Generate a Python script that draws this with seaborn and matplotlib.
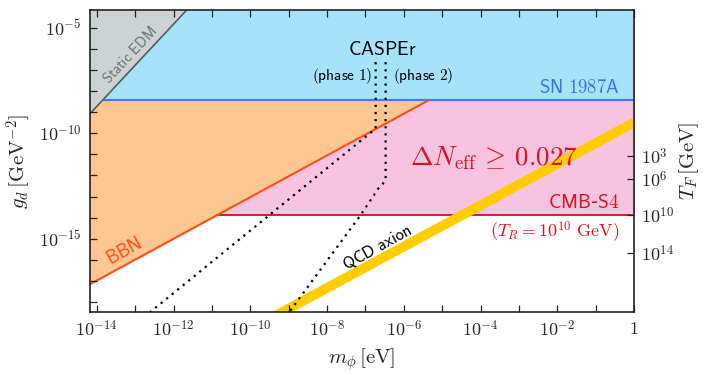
import numpy as np
import matplotlib
matplotlib.use("Agg")
import matplotlib.pyplot as plt
import seaborn as sns

# ---------------- data ----------------
x_major = [1e-14, 1e-12, 1e-10, 1e-8, 1e-6, 1e-4, 1e-2, 1.0]
x_major_labels = [r"$10^{-14}$", r"$10^{-12}$", r"$10^{-10}$", r"$10^{-8}$",
                  r"$10^{-6}$", r"$10^{-4}$", r"$10^{-2}$", r"$1$"]
x_minor = [1e-13, 1e-11, 1e-9, 1e-7, 1e-5, 1e-3, 1e-1]
y_major = [1e-15, 1e-10, 1e-5]
y_major_labels = [r"$10^{-15}$", r"$10^{-10}$", r"$10^{-5}$"]
y_minor = [1e-18, 1e-17, 1e-16, 1e-14, 1e-13, 1e-12, 1e-11, 1e-9, 1e-8, 1e-7, 1e-6]

# right axis: freeze-out temperature T_F
tf_g = [10**-11.07, 10**-12.18, 10**-13.88, 10**-15.69]
tf_labels = [r"$10^{3}$", r"$10^{6}$", r"$10^{10}$", r"$10^{14}$"]

# constraints
g_sn = 10**-8.43          # SN 1987A
g_cmb = 10**-13.88        # CMB-S4 (Delta N_eff >= 0.027)

edm_m = [10**-14.4, 10**-11.5]
edm_g = [10**-9.5, 10**-3.85]

bbn_m = [10**-14.4, 10**-5.345]
bbn_g = [10**-17.37, 10**-8.43]

qcd_m = [10**-10.0, 1.0]
qcd_g = [10**-19.29, 10**-9.49]

casper1_m = [10**-6.735, 10**-6.735, 10**-12.9]
casper1_g = [10**-6.63, 10**-9.78, 10**-18.9]

casper2_m = [10**-6.475, 10**-6.475, 10**-6.55, 10**-6.65, 10**-7.13, 10**-9.2]
casper2_g = [10**-6.63, 10**-12.2, 10**-12.4, 10**-12.58, 10**-13.89, 10**-19.0]

xlim = (10**-14.18, 1.0)
ylim = (10**-18.47, 10**-4.16)

# ---------------- style ----------------
sns.set_style("ticks")
plt.rcParams["mathtext.fontset"] = "cm"
plt.rcParams["font.family"] = ["DejaVu Sans"]
plt.rcParams["axes.axisbelow"] = False

fig = plt.figure(figsize=(7.04, 3.75), dpi=100)
ax = fig.add_axes([90/704, 1-312/375, 544/704, 302/375])
ax.set_axisbelow(False)
ax.set_xscale("log")
ax.set_yscale("log")
ax.set_xlim(*xlim)
ax.set_ylim(*ylim)

c_sn_fill, c_sn_line = "#a6e3fb", "#3f7bff"
c_bbn_fill, c_bbn_line = "#fec691", "#ff4d17"
c_cmb_fill, c_cmb_line = "#f8c3e0", "#dc1d2c"
c_edm_fill, c_edm_line = "#cdd3d3", "#555b5b"
c_qcd = "#ffcc00"

# SN 1987A region
ax.fill_between([xlim[0] / 10, xlim[1] * 10], g_sn, 1e-2, color=c_sn_fill, lw=0, zorder=1)

# BBN region: between BBN line and SN line
lbm, lbg = np.log10(bbn_m), np.log10(bbn_g)
ax.fill_between(bbn_m, bbn_g, g_sn, color=c_bbn_fill, lw=0, zorder=1)

# CMB-S4 region: right of BBN, between CMB and SN lines
m_cross = 10**np.interp(np.log10(g_cmb), lbg, lbm)
pink_m = [m_cross, bbn_m[-1], xlim[1] * 10]
pink_top = [g_cmb, g_sn, g_sn]
ax.fill_between(pink_m, g_cmb, pink_top, color=c_cmb_fill, lw=0, zorder=1)

# lines
sns.lineplot(x=[m_cross, xlim[1] * 10], y=[g_cmb, g_cmb], ax=ax, color=c_cmb_line,
             lw=1.4, zorder=3, estimator=None, sort=False)
sns.lineplot(x=[xlim[0] / 10, xlim[1] * 10], y=[g_sn, g_sn], ax=ax, color=c_sn_line,
             lw=1.6, zorder=3, estimator=None, sort=False)
sns.lineplot(x=bbn_m, y=bbn_g, ax=ax, color=c_bbn_line, lw=1.5, zorder=3,
             estimator=None, sort=False)

# Static EDM
ax.fill_between(edm_m, edm_g, 1e-2, color=c_edm_fill, lw=0, zorder=4)
sns.lineplot(x=edm_m, y=edm_g, ax=ax, color=c_edm_line, lw=1.2, zorder=5,
             estimator=None, sort=False)

# QCD axion band
sns.lineplot(x=qcd_m, y=qcd_g, ax=ax, color=c_qcd, lw=7.0, zorder=5,
             estimator=None, sort=False, solid_capstyle="butt")

# CASPEr
for cm_, cg_ in [(casper1_m, casper1_g), (casper2_m, casper2_g)]:
    sns.lineplot(x=cm_, y=cg_, ax=ax, color="black", lw=1.6, ls=(0, (1, 2.2)),
                 zorder=6, estimator=None, sort=False)

if ax.get_legend() is not None:
    ax.get_legend().remove()

ax.set_xlabel(r"$m_\phi\,[\mathrm{eV}]$", fontsize=15, labelpad=4)
ax.set_ylabel(r"$g_d\,[\mathrm{GeV}^{-2}]$", fontsize=15, labelpad=4)

# twin axis for T_F
ax2 = ax.twinx()
ax2.set_yscale("log")
ax2.set_ylim(*ylim)
ax2.set_yticks(tf_g)
ax2.set_yticklabels(tf_labels)
ax2.yaxis.set_minor_locator(matplotlib.ticker.NullLocator())
ax2.tick_params(axis="y", direction="in", length=5, width=0.9, color="#222222",
                labelsize=13, pad=5)
ax2.set_ylabel(r"$T_F\,[\mathrm{GeV}]$", fontsize=15, labelpad=2)
for s in ax2.spines.values():
    s.set_visible(False)

# ticks of main axes (after twinx)
ax.set_xlim(*xlim)
ax.set_ylim(*ylim)
ax.xaxis.set_major_locator(matplotlib.ticker.FixedLocator(x_major))
ax.xaxis.set_major_formatter(matplotlib.ticker.FixedFormatter(x_major_labels))
ax.xaxis.set_minor_locator(matplotlib.ticker.FixedLocator(x_minor))
ax.xaxis.set_minor_formatter(matplotlib.ticker.NullFormatter())
ax.yaxis.set_major_locator(matplotlib.ticker.FixedLocator(y_major))
ax.yaxis.set_major_formatter(matplotlib.ticker.FixedFormatter(y_major_labels))
ax.yaxis.set_minor_locator(matplotlib.ticker.FixedLocator(y_minor))
ax.yaxis.set_minor_formatter(matplotlib.ticker.NullFormatter())
ax.tick_params(which="both", direction="in", top=True, bottom=True, left=True,
               right=False, length=5, width=0.9, color="#222222", labelsize=13, pad=6)
ax.xaxis.set_zorder(9)
ax.yaxis.set_zorder(9)
for s in ax.spines.values():
    s.set_linewidth(1.2)
    s.set_color("#222222")
    s.set_zorder(10)

# annotations
T = ax.transAxes
ax.text(0.0735, 0.851, r"$\mathsf{Static\ EDM}$", transform=T, rotation=47,
        color="#6b7373", fontsize=10.5, ha="center", va="center", zorder=7)
ax.text(0.537, 0.868, r"$\mathsf{CASPEr}$", transform=T, color="black",
        fontsize=14, ha="center", va="center", zorder=7)
ax.text(0.518, 0.782, r"$\mathsf{(phase\ 1)}$", transform=T, color="black",
        fontsize=11, ha="right", va="center", zorder=7)
ax.text(0.5575, 0.782, r"$\mathsf{(phase\ 2)}$", transform=T, color="black",
        fontsize=11, ha="left", va="center", zorder=7)
ax.text(0.974, 0.745, r"$\mathsf{SN\ 1987A}$", transform=T, color="#3b6ef2",
        fontsize=13.5, ha="right", va="center", zorder=7)
ax.text(0.588, 0.51, r"$\Delta N_{\rm eff}\,\geq\, 0.027$", transform=T, color="#d8141e",
        fontsize=19.5, ha="left", va="center", zorder=7)
ax.text(0.974, 0.361, r"$\mathsf{CMB}$-$\mathsf{S4}$", transform=T, color="#d8141e",
        fontsize=14, ha="right", va="center", zorder=7)
ax.text(0.974, 0.265, r"$(T_R=10^{10}\ \mathrm{GeV})$", transform=T, color="#d8141e",
        fontsize=13, ha="right", va="center", zorder=7)
ax.text(0.0625, 0.202, r"$\mathsf{BBN}$", transform=T, color=c_bbn_line, rotation=29,
        fontsize=13.5, ha="center", va="center", zorder=7)
ax.text(0.5276, 0.215, r"$\mathsf{QCD\ axion}$", transform=T, color="black", rotation=29,
        fontsize=12, ha="center", va="center", zorder=7)

fig.savefig("out.png", dpi=100)
